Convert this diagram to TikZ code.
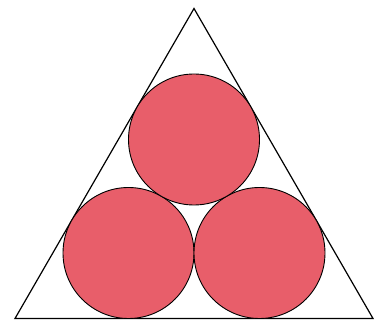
\documentclass[tikz,border=0pt]{standalone}
\usepackage{tikz}
\usetikzlibrary{calc}
\definecolor{disc}{RGB}{232,94,106}

\begin{document}
\begin{tikzpicture}[
  x=1pt,
  y=1pt,
  side/.style={
    draw=black,
    line width=1.2pt,
    line join=miter
  },
  ball/.style={
    draw=black,
    line width=.9pt,
    fill=disc
  }
]

\useasboundingbox (0,0) rectangle (375,326);

% Triangle corners
\coordinate (left) at (15,7.5);
\coordinate (right) at (373,7.5);
\coordinate (apex) at (194,317.5);

\draw[side] (left) -- (right) -- (apex) -- cycle;

% Three touching discs
\coordinate (c1) at (128.5,73);
\coordinate (c2) at (259.5,73);
\coordinate (c3) at (194,186.5);

\draw[ball] (c1) circle (65.5);
\draw[ball] (c2) circle (65.5);
\draw[ball] (c3) circle (65.5);

\end{tikzpicture}
\end{document}
